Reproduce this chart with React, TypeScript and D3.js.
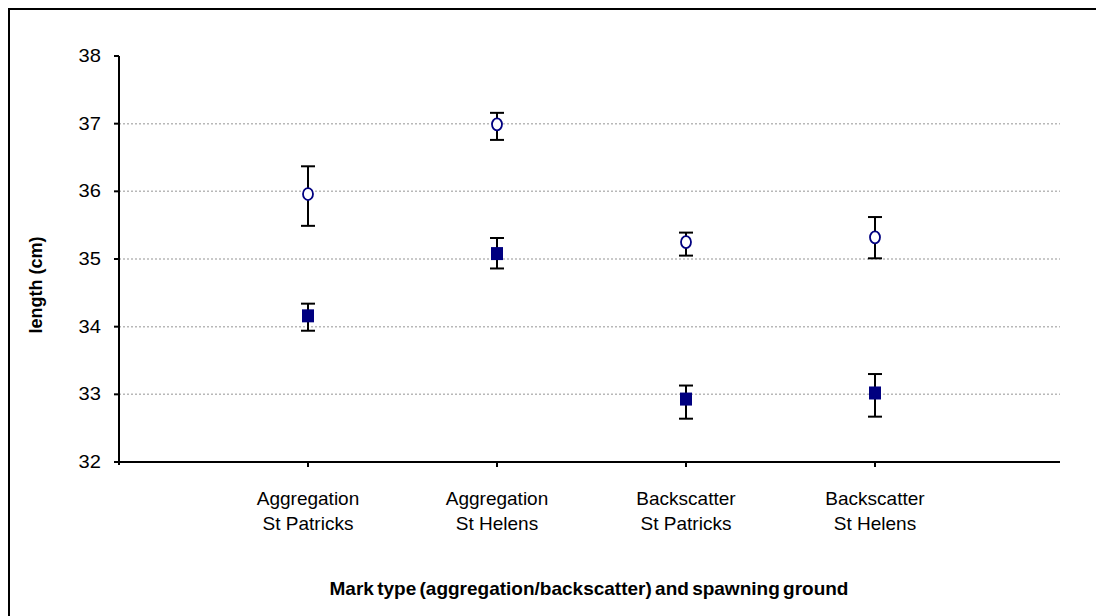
import React from "react";
import * as d3 from "d3";

const categories = [
  ["Aggregation", "St Patricks"],
  ["Aggregation", "St Helens"],
  ["Backscatter", "St Patricks"],
  ["Backscatter", "St Helens"],
];
const circleMean = [35.96, 36.99, 35.25, 35.32];
const circleHigh = [36.37, 37.16, 35.39, 35.62];
const circleLow = [35.49, 36.76, 35.05, 35.01];
const squareMean = [34.16, 35.08, 32.93, 33.02];
const squareHigh = [34.34, 35.31, 33.13, 33.3];
const squareLow = [33.94, 34.86, 32.64, 32.67];
const yTicks = [32, 33, 34, 35, 36, 37, 38];
const gridTicks = [33, 34, 35, 36, 37];

const NAVY = "#000080";
const FONT = "Arial, 'Liberation Sans', sans-serif";

export default function App() {
  const W = 1096, H = 616;
  const x0 = 119, x1 = 1060, yTop = 56, yBot = 462;
  const x = d3.scaleLinear().domain([0, 5]).range([x0, x1 + 4]);
  const y = d3.scaleLinear().domain([32, 38]).range([yBot, yTop]);
  const cap = 7;

  return (
    <svg width={W} height={H} style={{ position: "absolute", left: 0, top: 0, display: "block" }}>
      <rect x={0} y={0} width={W} height={H} fill="#fff" />
      <rect x={9} y={9} width={W + 20} height={H + 20} fill="none" stroke="#000" strokeWidth={2} />
      {gridTicks.map((t) => (
        <line key={"g" + t} x1={x0} x2={x1} y1={y(t)} y2={y(t)} stroke="#b8b8b8" strokeWidth={1.5} strokeDasharray="2,2" />
      ))}
      {/* y axis */}
      <line x1={x0} x2={x0} y1={yTop} y2={yBot + 3} stroke="#000" strokeWidth={2} />
      {yTicks.map((t) => (
        <g key={"y" + t}>
          <line x1={x0 - 5} x2={x0} y1={y(t)} y2={y(t)} stroke="#000" strokeWidth={2} />
          <text transform={`translate(101,${y(t) + 6}) scale(1.15,1)`} textAnchor="end" fontFamily={FONT} fontSize={17.5} fill="#000">{t}</text>
        </g>
      ))}
      {/* x axis */}
      <line x1={x0 - 5} x2={x1} y1={yBot} y2={yBot} stroke="#000" strokeWidth={2} />
      {categories.map((c, i) => (
        <g key={"x" + i}>
          <line x1={x(i + 1)} x2={x(i + 1)} y1={yBot} y2={yBot + 5} stroke="#000" strokeWidth={2} />
          <text x={x(i + 1)} y={505} textAnchor="middle" fontFamily={FONT} fontSize={19} fill="#000">{c[0]}</text>
          <text x={x(i + 1)} y={530} textAnchor="middle" fontFamily={FONT} fontSize={19} fill="#000">{c[1]}</text>
        </g>
      ))}
      {/* error bars */}
      {categories.map((_, i) => {
        const cx = x(i + 1);
        return (
          <g key={"e" + i} stroke="#000" strokeWidth={2}>
            <line x1={cx} x2={cx} y1={y(circleHigh[i])} y2={y(circleLow[i])} />
            <line x1={cx - cap} x2={cx + cap} y1={y(circleHigh[i])} y2={y(circleHigh[i])} />
            <line x1={cx - cap} x2={cx + cap} y1={y(circleLow[i])} y2={y(circleLow[i])} />
            <line x1={cx} x2={cx} y1={y(squareHigh[i])} y2={y(squareLow[i])} />
            <line x1={cx - cap} x2={cx + cap} y1={y(squareHigh[i])} y2={y(squareHigh[i])} />
            <line x1={cx - cap} x2={cx + cap} y1={y(squareLow[i])} y2={y(squareLow[i])} />
          </g>
        );
      })}
      {/* markers */}
      {categories.map((_, i) => {
        const cx = x(i + 1);
        return (
          <g key={"m" + i}>
            <ellipse cx={cx} cy={y(circleMean[i])} rx={5} ry={6} fill="#fff" stroke={NAVY} strokeWidth={1.8} />
            <rect x={cx - 6} y={y(squareMean[i]) - 6.5} width={12} height={13} fill={NAVY} />
          </g>
        );
      })}
      <text transform={`translate(42,285) rotate(-90)`} textAnchor="middle" fontFamily={FONT} fontSize={18} fontWeight="bold" fill="#000">length (cm)</text>
      <text x={589} y={595} textAnchor="middle" fontFamily={FONT} fontSize={19} fontWeight="bold" fill="#000" wordSpacing={-2}>Mark type (aggregation/backscatter) and spawning ground</text>
    </svg>
  );
}
